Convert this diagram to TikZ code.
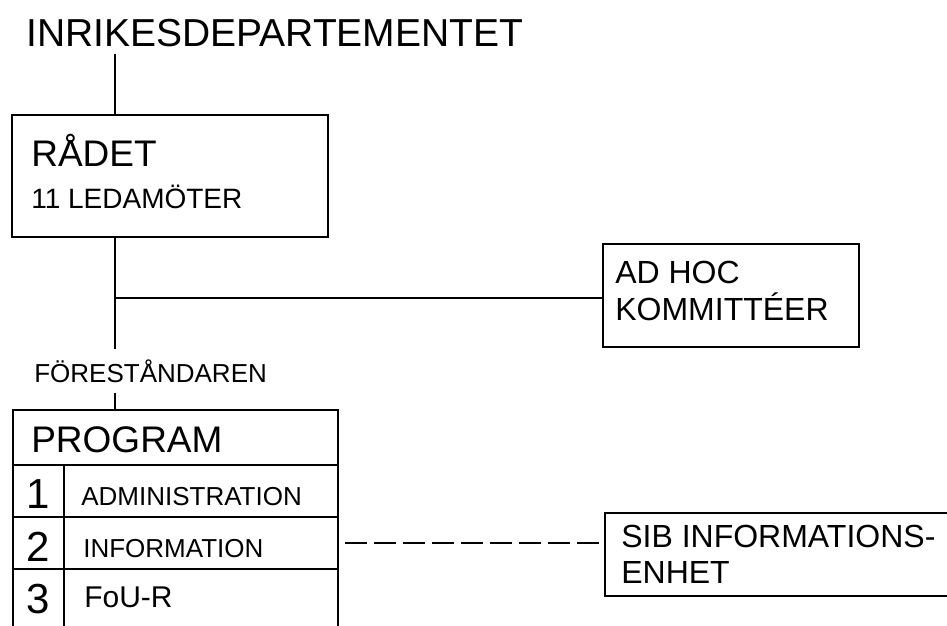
\documentclass[tikz,border=0pt]{standalone}
\usepackage{fontspec}
\setmainfont{Liberation Sans}
\begin{document}
\begin{tikzpicture}
  [x=1pt,y=-1pt,line width=2.6pt,
   every node/.style={inner sep=0pt,anchor=base west},
   box/.style={draw,rectangle,anchor=center,line width=2.6pt},
   big/.style={font=\fontsize{37}{40}\selectfont},
   mid/.style={font=\fontsize{32}{36}\selectfont},
   small/.style={font=\fontsize{26}{30}\selectfont},
   digit/.style={font=\fontsize{42}{44}\selectfont,anchor=base}]
\useasboundingbox (0,0) rectangle (947,625);
\clip (0,0) rectangle (947,625);

% boxes
\node (raadet)[box,minimum width=316pt,minimum height=122pt] at (170,176) {};
\node (adhoc)[box,minimum width=256pt,minimum height=103pt] at (731,295.5) {};
\node (program)[box,minimum width=325pt,minimum height=240pt] at (175.5,530) {};
\node (sib)[box,minimum width=360pt,minimum height=83pt] at (785,554.5) {};

% texts
\node (titel)[font=\fontsize{39}{44}\selectfont,inner ysep=6pt] at (25,46) {INRIKESDEPARTEMENTET};
\node (raadettext)[big] at (30,166) {RÅDET};
\node (ledamoter)[font=\fontsize{28}{32}\selectfont] at (30,208) {11 LEDAMÖTER};
\node (adhoc1)[mid] at (614,283) {AD HOC};
\node (adhoc2)[mid] at (614,320) {KOMMITTÉER};
\node (foerest)[small,inner ysep=9pt] at (33,382) {FÖRESTÅNDAREN};
\node (progtext)[big] at (30,452) {PROGRAM};
\node (nr1)[digit] at (38.5,508) {1};
\node (nr2)[digit] at (38.5,561) {2};
\node (nr3)[digit] at (38.5,613) {3};
\node (admin)[small] at (80,505) {ADMINISTRATION};
\node (info)[small] at (82,557) {INFORMATION};
\node (fou)[font=\fontsize{30}{34}\selectfont] at (83,607) {FoU-R};
\node (sib1)[mid] at (620,547) {SIB INFORMATIONS-};
\node (sib2)[mid] at (620,583) {ENHET};

\coordinate (spine) at (115,0);
\coordinate (kors) at (115,298);
\coordinate (streck) at (345,543);
\coordinate (rad1) at (0,465);
\coordinate (rad2) at (0,517);
\coordinate (rad3) at (0,569);
\coordinate (kol) at (64,0);

 \path (titel.south -| spine) edge (raadet.north -| spine);
 \path (raadet.south -| spine) edge (foerest.north -| spine);
 \path (foerest.south -| spine) edge (program.north -| spine);
 \path (kors) edge (adhoc.west |- kors);

 \path (program.west |- rad1) edge (program.east |- rad1);
 \path (program.west |- rad2) edge (program.east |- rad2);
 \path (program.west |- rad3) edge (program.east |- rad3);
 \path (kol |- rad1) edge (kol |- program.south);

 \path [dash pattern=on 22pt off 7pt] (streck) edge [shorten >=5pt] (sib.west |- streck);
\end{tikzpicture}
\end{document}
